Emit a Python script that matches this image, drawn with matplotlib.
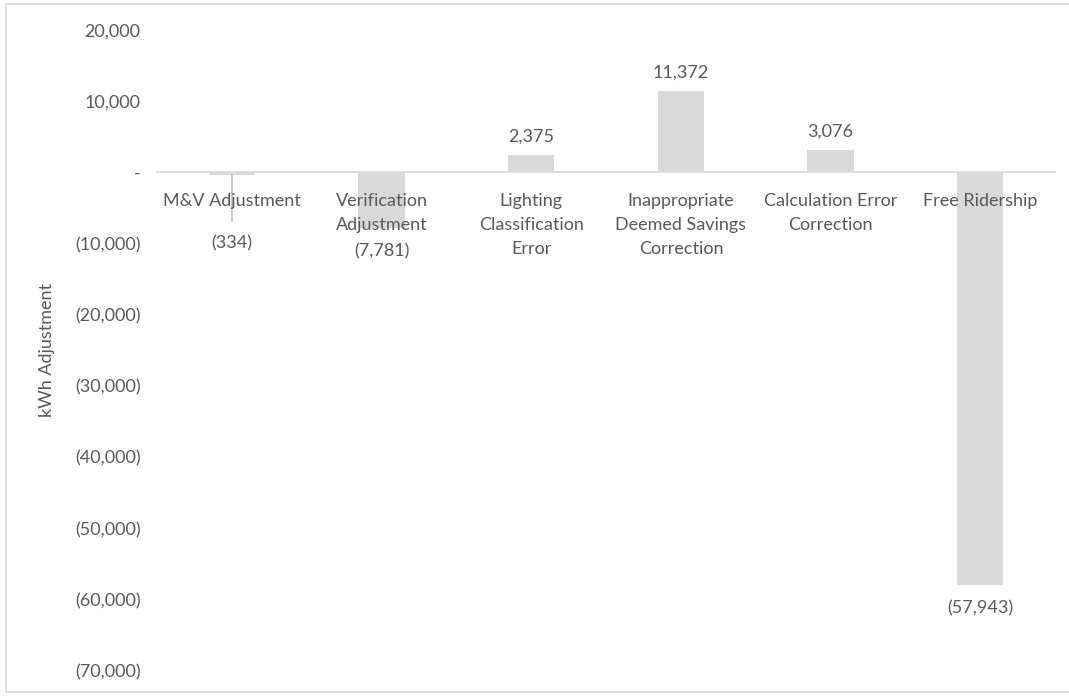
import matplotlib
matplotlib.use('Agg')
import matplotlib.pyplot as plt
from matplotlib.ticker import FuncFormatter
from matplotlib.patches import Rectangle

plt.rcParams['font.family'] = ['Lato', 'DejaVu Sans']

categories = ['M&V Adjustment', 'Verification\nAdjustment', 'Lighting\nClassification\nError',
              'Inappropriate\nDeemed Savings\nCorrection', 'Calculation Error\nCorrection', 'Free Ridership']
values = [-334, -7781, 2375, 11372, 3076, -57943]

text_col = '#595959'
bar_col = '#d9d9d9'
fs = 13


def fmt(v, pos=None):
    if v == 0:
        return '-'
    if v < 0:
        return '({:,.0f})'.format(-v)
    return '{:,.0f}'.format(v)


fig = plt.figure(figsize=(10.69, 6.96), dpi=100)
ax = fig.add_axes([0.147, 0.036, 0.840, 0.921])

x = list(range(len(values)))
ax.bar(x, values, width=0.31, color=bar_col, zorder=2)

ax.set_xlim(-0.5, len(values) - 0.5)
ax.set_ylim(-70000, 20000)
ax.set_yticks(range(-70000, 20001, 10000))
ax.yaxis.set_major_formatter(FuncFormatter(fmt))
ax.set_xticks(x)
ax.set_xticklabels([])

for s in ['top', 'right', 'left']:
    ax.spines[s].set_visible(False)
ax.spines['bottom'].set_position(('data', 0))
ax.spines['bottom'].set_color('#d9d9d9')
ax.spines['bottom'].set_linewidth(1.2)
ax.tick_params(axis='both', length=0, labelsize=fs, colors=text_col)
ax.tick_params(axis='y', pad=12)
ax.set_ylabel('kWh Adjustment', fontsize=fs, color=text_col, labelpad=14)

# category labels just under the zero line, on top of bars
for i, c in enumerate(categories):
    ax.annotate(c, (i, 0), xytext=(0, -14.5), textcoords='offset points',
                ha='center', va='top', fontsize=fs, color=text_col,
                linespacing=1.65, zorder=5)

# data labels
for i, v in enumerate(values):
    if v >= 0:
        ax.annotate(fmt(v), (i, v), xytext=(0, 8), textcoords='offset points',
                    ha='center', va='bottom', fontsize=fs, color=text_col)
    elif i == 0:
        # label moved down with a leader line
        ax.annotate(fmt(v), (i, v), xytext=(i, -10000), textcoords='data',
                    ha='center', va='center', fontsize=fs, color=text_col,
                    arrowprops=dict(arrowstyle='-', color='#a6a6a6', lw=0.8,
                                    shrinkA=8, shrinkB=0))
    else:
        ax.annotate(fmt(v), (i, v), xytext=(0, -11), textcoords='offset points',
                    ha='center', va='top', fontsize=fs, color=text_col, zorder=5)

# chart area border
fig.patches.append(Rectangle((0.006, 0.006), 1.2, 0.988, transform=fig.transFigure,
                             fill=False, edgecolor='#d9d9d9', lw=1.2))

fig.savefig('out.png', dpi=100)
